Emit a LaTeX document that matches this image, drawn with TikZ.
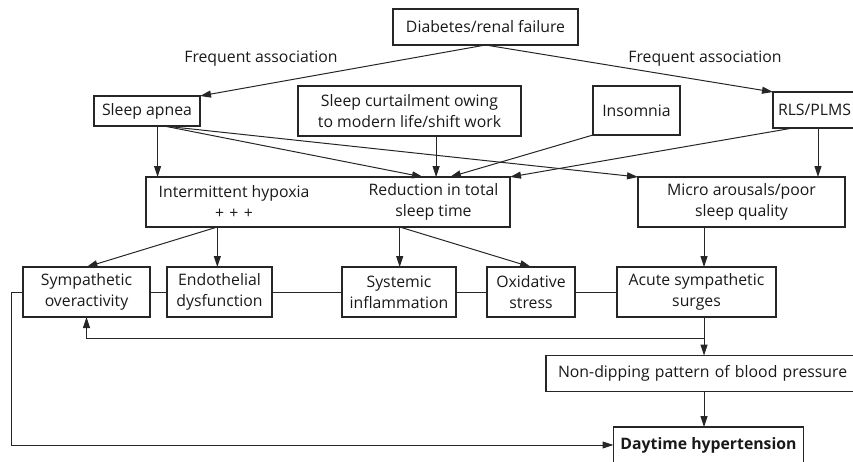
\documentclass[tikz,border=0pt]{standalone}
\usepackage{fontspec}
\setmainfont{Open Sans}
\usetikzlibrary{arrows.meta,calc}
\begin{document}
\begin{tikzpicture}[x=1pt,y=-1pt,
  every node/.style={font=\fontsize{15.8}{21}\selectfont, inner sep=0pt, outer sep=0pt, text=black!90},
  box/.style={draw=black!85, line width=1.2pt, align=center},
  link/.style={draw=black!85, line width=1pt},
  arr/.style={link, -{Triangle[length=11pt,width=7pt]}}
]
\useasboundingbox (0,0) rectangle (853,461);

% boxes (centre, width, height)
\node[box, minimum width=185, minimum height=36] (diab) at (485.5,27) {Diabetes/renal failure};
\node[box, minimum width=106, minimum height=30] (apnea) at (147,111) {Sleep apnea};
\node[box, minimum width=223, minimum height=50] (curt) at (409.5,111) {Sleep curtailment owing\\to modern life/shift work};
\node[box, minimum width=87, minimum height=49] (insom) at (636.5,110.5) {Insomnia};
\node[box, minimum width=100, minimum height=36, text width=90, align=left] (rls) at (823,110) {RLS/PLMS};

\node[box, minimum width=364, minimum height=50] (inter) at (328,202) {};
\node[align=center] (hyp) at (234,202) {Intermittent hypoxia\\+\,\,+\,\,+};
\node[align=center] (red) at (433.5,202) {Reduction in total\\sleep time};
\node[box, minimum width=207, minimum height=50] (micro) at (741.5,202) {Micro arousals/poor\\sleep quality};

\node[box, minimum width=127, minimum height=50] (symp) at (86.5,292) {Sympathetic\\overactivity};
\node[box, minimum width=105, minimum height=50] (endo) at (219.5,292) {Endothelial\\dysfunction};
\node[box, minimum width=114, minimum height=50] (syst) at (399,292) {Systemic\\inflammation};
\node[box, minimum width=88, minimum height=50] (oxid) at (531,292) {Oxidative\\stress};
\node[box, minimum width=159, minimum height=50] (acute) at (696.5,292) {Acute sympathetic\\surges};

\node[box, minimum width=324, minimum height=36, text width=300, align=left] (nondip) at (708,373.5) {Non-dipping pattern of blood pressure};
\node[box, minimum width=190, minimum height=36, font=\fontsize{15.8}{21}\selectfont\bfseries] (day) at (708.5,445) {Daytime hypertension};

\node (fa1) at (261,59) {Frequent association};
\node (fa2) at (705,59) {Frequent association};

% attachment points along box edges
\coordinate (apS) at ($(apnea.south west)!0.6!(apnea.south east)$);
\coordinate (apS2) at ($(apnea.south west)!0.66!(apnea.south east)$);
\coordinate (inApnea) at ($(inter.north west)!0.761!(inter.north east)$);
\coordinate (inCurt) at ($(inter.north west)!0.797!(inter.north east)$);
\coordinate (inIns) at ($(inter.north west)!0.835!(inter.north east)$);
\coordinate (rlsS) at ($(rls.south west)!0.2!(rls.south east)$);
\coordinate (rlsS2) at ($(rls.south west)!0.45!(rls.south east)$);
\coordinate (inL) at ($(inter.south west)!0.196!(inter.south east)$);
\coordinate (inR) at ($(inter.south west)!0.697!(inter.south east)$);
\coordinate (mid) at ($(micro.south west)!0.319!(micro.south east)$);
\coordinate (loopL) at (11,0);
\coordinate (fb) at (0,338);

% from the top box
\draw[arr] (diab.south) -- (apnea.north east);
\draw[arr] (diab.south) -- (rls.north west);

% into the hypoxia / sleep time box and the arousal box
\draw[arr] (apS) -- (apS |- inter.north);
\draw[arr] (apS2) -- (inApnea);
\draw[arr] (apS2) -- (micro.north west);
\draw[arr] (curt.south -| inCurt) -- (inCurt);
\draw[arr] (insom.south west) -- (inIns);
\draw[arr] (rlsS) -- (inter.north east);
\draw[arr] (rlsS2) -- (rlsS2 |- micro.north);

% into the row of mechanisms
\draw[arr] (inL) -- (symp.north);
\draw[arr] (inL) -- (inL |- endo.north);
\draw[arr] (inR) -- (inR |- syst.north);
\draw[arr] (inR) -- (oxid.north);
\draw[arr] (mid) -- (mid |- acute.north);

% links between the mechanisms
\draw[link] (symp.east) -- (endo.west);
\draw[link] (endo.east) -- (syst.west);
\draw[link] (syst.east) -- (oxid.west);
\draw[link] (oxid.east) -- (acute.west);

% towards blood pressure
\draw[arr] (mid |- acute.south) -- (mid |- nondip.north);
\draw[arr] (mid |- fb) -- (symp.south |- fb) -- (symp.south);
\draw[arr] (mid |- nondip.south) -- (mid |- day.north);
\draw[arr] (symp.west) -- (loopL |- symp.west) -- (loopL |- day.west) -- (day.west);
\end{tikzpicture}
\end{document}
